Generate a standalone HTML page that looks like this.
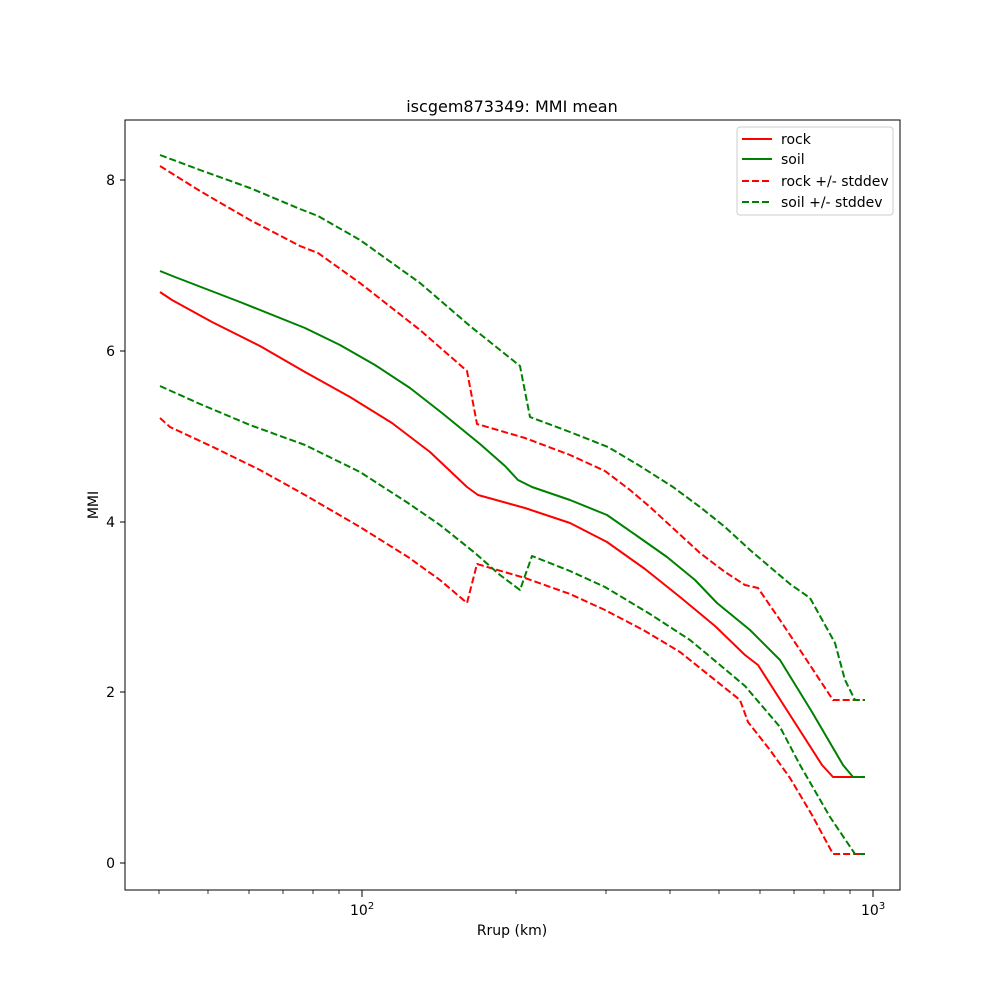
<!DOCTYPE html>
<html><head><meta charset="utf-8"><style>body{margin:0;background:#fff}svg text{font-family:"DejaVu Sans","Liberation Sans",sans-serif;fill:#000}</style></head>
<body>
<svg width="1000" height="1000" viewBox="0 0 1000 1000" xmlns="http://www.w3.org/2000/svg">
<rect width="1000" height="1000" fill="#fff"/>
<text x="512" y="112" font-size="16" text-anchor="middle">iscgem873349: MMI mean</text>
<g fill="none" stroke-width="2" stroke-linejoin="round">
<polyline stroke="#ff0000" points="160,292 172,300 212,322 260,346 305,372 350,397 392,423 430,452 467,487 478,495 525,508 570,523 607,542 645,569 680,597 715,626 745,655 758,665 790,715 822,765 833,777 865,777"/>
<polyline stroke="#008000" points="160,271 175,277 240,302 305,328 340,345 375,365 410,388 442,413 480,444 505,466 518,480 532,487 570,500 607,515 640,538 667,557 695,580 717,603 750,630 780,660 812,712 843,765 853,777 865,777"/>
<g stroke-dasharray="7,3">
<polyline stroke="#ff0000" points="160,166 200,191 250,220 300,246 318,253 360,283 420,330 467,371 477,424 525,438 570,455 605,471 630,490 650,507 675,530 700,553 725,572 745,585 758,588 780,620 800,650 833,700 865,700"/>
<polyline stroke="#ff0000" points="160,418 170,427 213,447 260,470 305,495 360,527 408,557 440,580 467,603 477,564 525,578 570,594 605,610 645,631 680,652 715,680 740,700 748,722 770,750 790,778 812,815 833,854 865,854"/>
<polyline stroke="#008000" points="160,155 200,170 250,188 300,209 318,216 360,240 420,283 470,326 520,366 530,417 570,432 608,447 640,466 673,487 700,507 725,527 750,550 790,584 810,598 835,643 845,680 855,700 865,700"/>
<polyline stroke="#008000" points="160,386 200,404 250,425 305,445 360,472 408,503 440,525 475,553 500,575 520,590 532,556 570,571 605,587 650,614 690,640 720,665 745,686 780,727 800,765 830,817 855,854 865,854"/>
</g></g>
<rect x="125" y="120" width="775" height="770" fill="none" stroke="#000" stroke-width="1"/>
<g stroke="#000" stroke-width="1">
<line x1="125" y1="863" x2="120" y2="863"/><line x1="125" y1="692" x2="120" y2="692"/><line x1="125" y1="522" x2="120" y2="522"/><line x1="125" y1="351" x2="120" y2="351"/><line x1="125" y1="180" x2="120" y2="180"/>
<line x1="362" y1="890" x2="362" y2="897"/><line x1="873" y1="890" x2="873" y2="897"/>
<g stroke-width="0.8">
<line x1="159" y1="890" x2="159" y2="894"/><line x1="208" y1="890" x2="208" y2="894"/><line x1="249" y1="890" x2="249" y2="894"/><line x1="283" y1="890" x2="283" y2="894"/><line x1="313" y1="890" x2="313" y2="894"/><line x1="339" y1="890" x2="339" y2="894"/>
<line x1="516" y1="890" x2="516" y2="894"/><line x1="606" y1="890" x2="606" y2="894"/><line x1="670" y1="890" x2="670" y2="894"/><line x1="719" y1="890" x2="719" y2="894"/><line x1="760" y1="890" x2="760" y2="894"/><line x1="794" y1="890" x2="794" y2="894"/><line x1="824" y1="890" x2="824" y2="894"/><line x1="850" y1="890" x2="850" y2="894"/>
</g></g>
<g font-size="14" text-anchor="end">
<text x="115" y="868">0</text><text x="115" y="697">2</text><text x="115" y="527">4</text><text x="115" y="356">6</text><text x="115" y="185">8</text>
</g>
<text x="350" y="915" font-size="14">10<tspan font-size="10" dy="-6">2</tspan></text>
<text x="861" y="915" font-size="14">10<tspan font-size="10" dy="-6">3</tspan></text>
<text x="512" y="935" font-size="14" text-anchor="middle">Rrup (km)</text>
<text x="98" y="505" font-size="14" text-anchor="middle" transform="rotate(-90 98 505)">MMI</text>
<rect x="737" y="127" width="156" height="88" rx="3" fill="#fff" stroke="#ccc"/>
<g stroke-width="2">
<line x1="742" y1="139" x2="772" y2="139" stroke="#ff0000"/>
<line x1="742" y1="159" x2="772" y2="159" stroke="#008000"/>
<line x1="742" y1="181" x2="772" y2="181" stroke="#ff0000" stroke-dasharray="7,3"/>
<line x1="742" y1="202" x2="772" y2="202" stroke="#008000" stroke-dasharray="7,3"/>
</g>
<g font-size="14">
<text x="781" y="144">rock</text><text x="781" y="164">soil</text><text x="781" y="186">rock +/- stddev</text><text x="781" y="207">soil +/- stddev</text>
</g>
</svg>
</body></html>
